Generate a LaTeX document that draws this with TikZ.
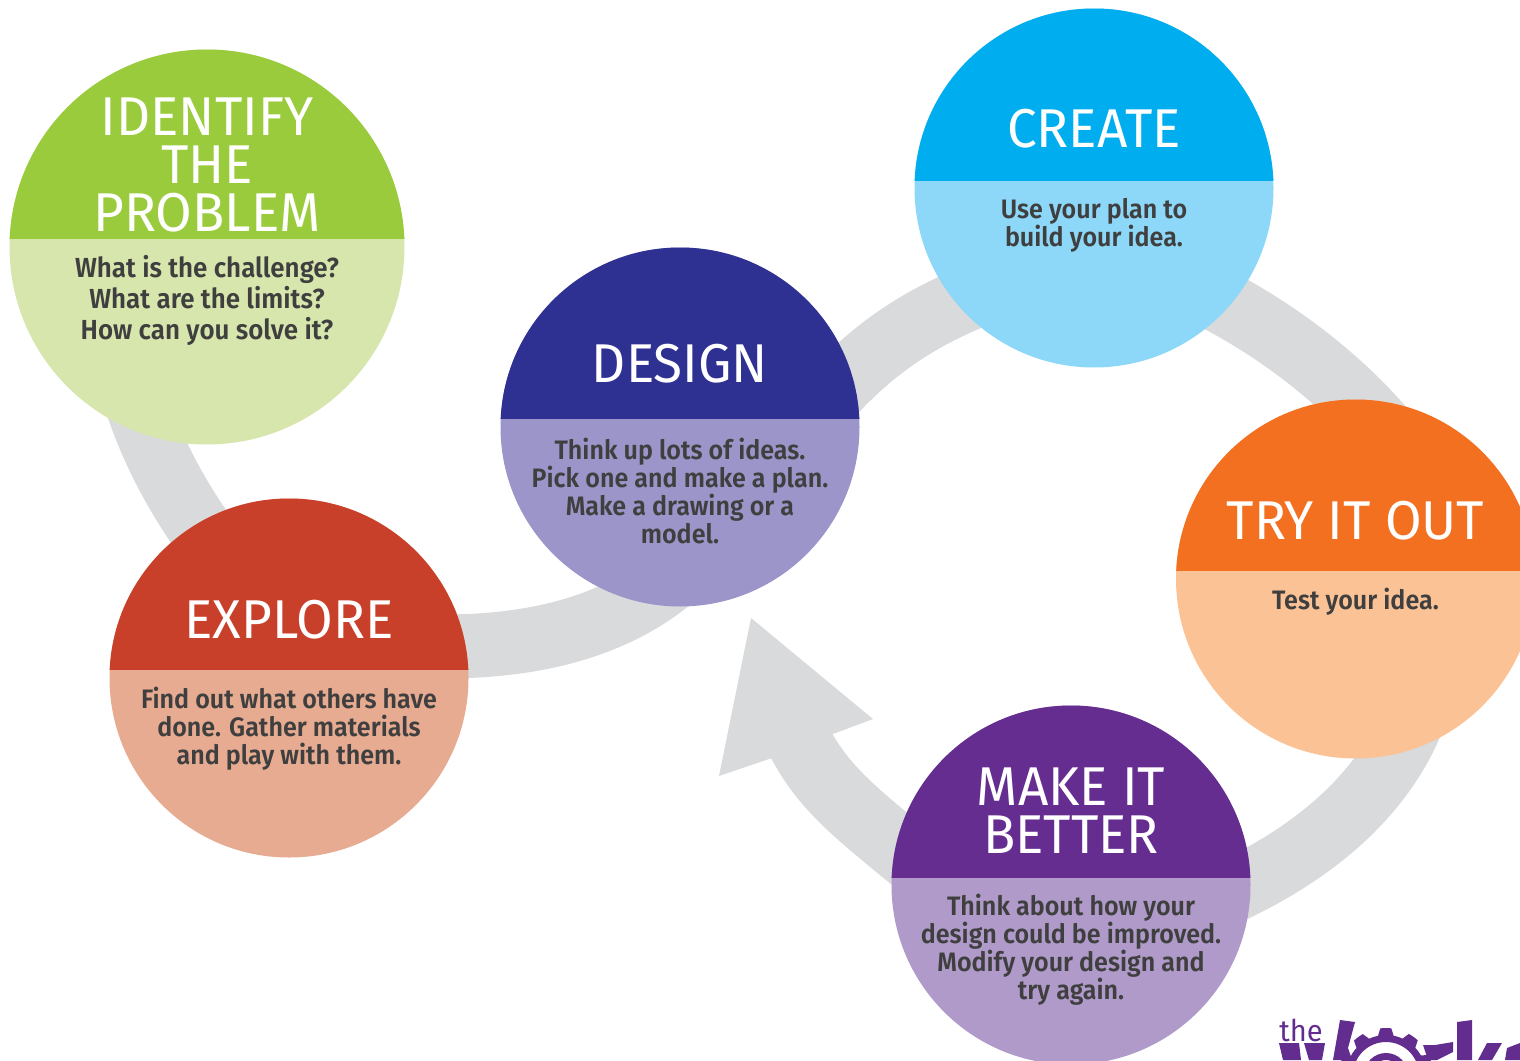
\documentclass[tikz,border=0pt]{standalone}
\usepackage{fontspec}
\setmainfont{Fira Sans}
\newfontfamily\titlefont[FakeStretch=0.97]{Fira Sans}
\newfontfamily\bodyfont[UprightFont=* SemiBold,FakeStretch=0.94]{Fira Sans}
\usetikzlibrary{backgrounds}
\definecolor{bandgray}{HTML}{D9DADC}
\definecolor{bodyink}{HTML}{3F3F3F}
\definecolor{logopurple}{HTML}{632D8F}
\definecolor{idDark}{HTML}{9ACB3C}\definecolor{idLight}{HTML}{D7E6AD}
\definecolor{crDark}{HTML}{00AEEF}\definecolor{crLight}{HTML}{8DD8F8}
\definecolor{deDark}{HTML}{2E3192}\definecolor{deLight}{HTML}{9C95C9}
\definecolor{trDark}{HTML}{F37021}\definecolor{trLight}{HTML}{FBC295}
\definecolor{maDark}{HTML}{662D91}\definecolor{maLight}{HTML}{B09ACA}
\definecolor{exDark}{HTML}{C8402A}\definecolor{exLight}{HTML}{E6AB91}
\tikzset{
  band/.style={draw=bandgray,line width=48pt,line cap=butt,line join=round},
  bandhead/.style={fill=bandgray,draw=none},
  disc/.style={circle,inner sep=0pt,outer sep=0pt,draw=none},
  titletext/.style={text=white,align=center,inner sep=0pt,font=\titlefont\fontsize{41}{36}\selectfont},
  bodytext/.style={text=bodyink,align=center,inner sep=0pt,font=\bodyfont\fontsize{20}{21}\selectfont},
  logopart/.style={fill=logopurple,draw=none},
}
% #1 name, #2 cx, #3 cy, #4 radius, #5 divider y, #6 dark, #7 light
\newcommand{\stagedisc}[7]{%
  \node[disc,fill=#7,minimum size=#4*1.5pt] (#1) at (#2,#3) {};
  \begin{scope}
    \clip (#2-#4-1,#3-#4-1) rectangle (#2+#4+1,#5);
    \fill[#6] (#1.center) circle[radius=#4];
  \end{scope}}
\begin{document}
\begin{tikzpicture}[x=0.75pt,y=-0.75pt]
\useasboundingbox (0,0) rectangle (1520,1060);
\clip (0,0) rectangle (1520,1060);
\stagedisc{identify}{207}{247}{197.5}{238.5}{idDark}{idLight}
\stagedisc{create}{1094}{188}{179.5}{180.5}{crDark}{crLight}
\stagedisc{design}{680}{427}{179.5}{418.5}{deDark}{deLight}
\stagedisc{tryout}{1355.5}{579}{179.5}{570.5}{trDark}{trLight}
\stagedisc{better}{1071}{885}{179.5}{877.5}{maDark}{maLight}
\stagedisc{explore}{289}{678}{179.5}{669.5}{exDark}{exLight}

\node[titletext] (t1) at (207,165) {IDENTIFY\\THE\\PROBLEM};
\node[bodytext,font=\bodyfont\fontsize{20.7}{23.2}\selectfont] (b1) at (207,300.5) {What is the challenge?\\What are the limits?\\How can you solve it?};
\node[titletext] (t2) at (1094,129) {CREATE};
\node[bodytext] (b2) at (1094,225) {Use your plan to\\build your idea.};
\node[titletext] (t3) at (680,364) {DESIGN};
\node[bodytext] (b3) at (680,491) {Think up lots of ideas.\\Pick one and make a plan.\\Make a drawing or a\\model.};
\node[titletext] (t4) at (1355.5,521) {TRY IT OUT};
\node[bodytext] (b4) at (1355.5,602) {Test your idea.};
\node[titletext] (t5) at (1071,811) {MAKE IT\\BETTER};
\node[bodytext] (b5) at (1071,950) {Think about how your\\design could be improved.\\Modify your design and\\try again.};
\node[titletext] (t6) at (289,620) {EXPLORE};
\node[bodytext] (b6) at (289,729) {Find out what others have\\done. Gather materials\\and play with them.};

\begin{pgfonlayer}{background}
  \draw[band] (identify.center) -- (130,380) .. controls (148,450) and (190,525) .. (245,585) -- (explore.center);
  \draw[band] (explore.center) -- (400,645) .. controls (480,650) and (590,645) .. (670,580) -- (design.center);
  \draw[band] (design.center) -- (810,420) .. controls (870,345) and (930,310) .. (1010,283) -- (create.center);
  \draw[band] (create.center) -- (1150,270) .. controls (1235,300) and (1335,365) .. (1400,450) -- (tryout.center);
  \draw[band] (tryout.center) -- (1425,680) .. controls (1405,770) and (1335,850) .. (1200,905) -- (better.center);
  \coordinate (neck) at (797,737);
  \draw[band,line width=49pt] (better.center) -- (960,900) .. controls (875,825) and (828,800) .. (neck);
  \fill[bandhead] (833,734) -- (873,719) -- (751,618) -- (719,776) -- (769,759) -- cycle;
\end{pgfonlayer}

\node[text=logopurple,inner sep=0pt,anchor=base,font=\titlefont\fontsize{22.5}{22}\selectfont] (logothe) at (1301,1041) {the};
% W
\fill[logopart] (1279,1043) -- (1299,1043) -- (1301,1060) -- (1283,1060) -- cycle;
\fill[logopart] (1304,1043) -- (1325,1043) -- (1322,1060) -- (1309,1060) -- cycle;
\fill[logopart] (1340,1020) -- (1355,1022) -- (1348,1048) -- (1352,1060) -- (1333,1060) -- cycle;
% gear ring with teeth, then its hub
\fill[logopart,even odd rule]
  plot[samples at={0,...,79},variable=\a] (
    {1386+(mod(\a,8)<4 ? 47 : 40)*cos(\a*4.5+11)},
    {1075+(mod(\a,8)<4 ? 47 : 40)*sin(\a*4.5+11)}) -- cycle
  (1386,1075) circle[radius=33];
\fill[logopart,even odd rule] (1386,1075) circle[radius=22] (1386,1075) circle[radius=15];
% r
\fill[logopart] (1423,1045) -- (1435,1045) -- (1453,1042) -- (1453,1052) -- (1437,1060) -- (1428,1060) -- cycle;
% k
\fill[logopart] (1457,1022) -- (1472,1020) -- (1472,1060) -- (1457,1060) -- cycle;
\fill[logopart] (1487,1043) -- (1502,1043) -- (1492,1060) -- (1478,1060) -- cycle;
% s
\fill[logopart] (1507,1048) -- (1520,1043) -- (1520,1060) -- (1505,1060) -- cycle;
\end{tikzpicture}
\end{document}
